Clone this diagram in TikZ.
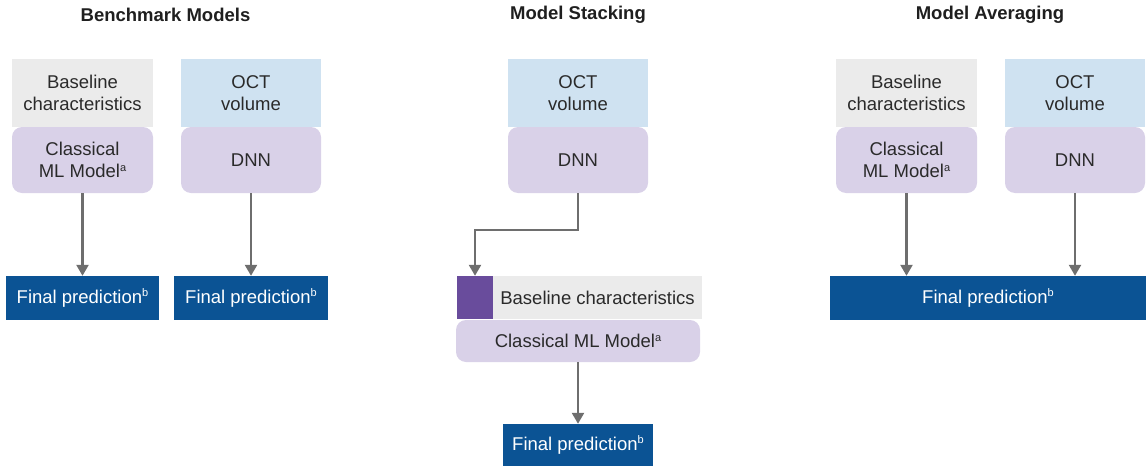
\documentclass[tikz,border=0pt]{standalone}
\usepackage{fontspec}
\setmainfont{Liberation Sans}
\usetikzlibrary{arrows.meta}
\definecolor{txt}{HTML}{2A2A2A}
\definecolor{ttl}{HTML}{1F1F1F}
\definecolor{grayfill}{HTML}{EBEBEB}
\definecolor{bluefill}{HTML}{CFE2F1}
\definecolor{lavfill}{HTML}{D9D1E8}
\definecolor{darkblue}{HTML}{0B5394}
\definecolor{purplesq}{HTML}{694C9C}
\definecolor{arrgray}{HTML}{6E6E6E}
\newcommand\supr[1]{\raisebox{6.5pt}{\fontsize{11}{11}\selectfont #1}}
\tikzset{
  base/.style={inner sep=0pt, align=center, text=txt, font=\fontsize{18.5}{21.8}\selectfont},
  graybox/.style={base, fill=grayfill},
  bluebox/.style={base, fill=bluefill},
  lavbox/.style={base, fill=lavfill, rounded corners=10pt},
  finalbox/.style={base, fill=darkblue, text=white},
  sqbox/.style={inner sep=0pt, fill=purplesq},
  title/.style={inner sep=0pt, text=ttl, font=\bfseries\fontsize{18.5}{21.8}\selectfont},
  arr/.style={draw=arrgray, line width=2.4pt, -{Triangle[width=12pt,length=11pt]}},
}
\begin{document}
\begin{tikzpicture}[x=1pt,y=-1pt]
\useasboundingbox (0,0) rectangle (1146,466);
% titles
\node[title] (t1) at (165.5,15) {Benchmark Models};
\node[title] (t2) at (578,15) {Model Stacking};
\node[title] (t3) at (990,15) {Model Averaging};
% left panel
\node[graybox, minimum width=141pt, minimum height=68pt] (bl1) at (82.5,93) {Baseline\\characteristics};
\node[lavbox, minimum width=141pt, minimum height=66pt] (cm1) at (82.5,160) {Classical\\ML Model\supr{a}};
\node[bluebox, minimum width=140pt, minimum height=68pt] (oct1) at (251,93) {OCT\\volume};
\node[lavbox, minimum width=140pt, minimum height=66pt] (dnn1) at (251,160) {DNN};
\node[finalbox, minimum width=153pt, minimum height=44pt] (fp1) at (82.5,298) {Final prediction\supr{b}};
\node[finalbox, minimum width=154pt, minimum height=44pt] (fp2) at (251,298) {Final prediction\supr{b}};
\draw[arr] (cm1.south) -- (fp1.north);
\draw[arr] (dnn1.south) -- (fp2.north);
% middle panel
\node[bluebox, minimum width=140pt, minimum height=68pt] (oct2) at (578,93) {OCT\\volume};
\node[lavbox, minimum width=140pt, minimum height=66pt] (dnn2) at (578,160) {DNN};
\node[sqbox, minimum width=36pt, minimum height=43pt] (sq) at (475,297.5) {};
\node[graybox, minimum width=209pt, minimum height=43pt] (bl2) at (597.5,297.5) {Baseline characteristics};
\node[lavbox, minimum width=244pt, minimum height=42pt] (cm2) at (578,341) {Classical ML Model\supr{a}};
\node[finalbox, minimum width=150pt, minimum height=42pt] (fp3) at (578,445) {Final prediction\supr{b}};
\coordinate (bend) at (578,230);
\draw[arr] (dnn2.south) -- (bend) -| (sq.north);
\draw[arr] (cm2.south) -- (fp3.north);
% right panel
\node[graybox, minimum width=141pt, minimum height=68pt] (bl3) at (906.5,93) {Baseline\\characteristics};
\node[lavbox, minimum width=141pt, minimum height=66pt] (cm3) at (906.5,160) {Classical\\ML Model\supr{a}};
\node[bluebox, minimum width=140pt, minimum height=68pt] (oct3) at (1075,93) {OCT\\volume};
\node[lavbox, minimum width=140pt, minimum height=66pt] (dnn3) at (1075,160) {DNN};
\node[finalbox, minimum width=316pt, minimum height=44pt] (fp4) at (988,298) {Final prediction\supr{b}};
\draw[arr] (cm3.south) -- (cm3.south |- fp4.north);
\draw[arr] (dnn3.south) -- (dnn3.south |- fp4.north);
\end{tikzpicture}
\end{document}
